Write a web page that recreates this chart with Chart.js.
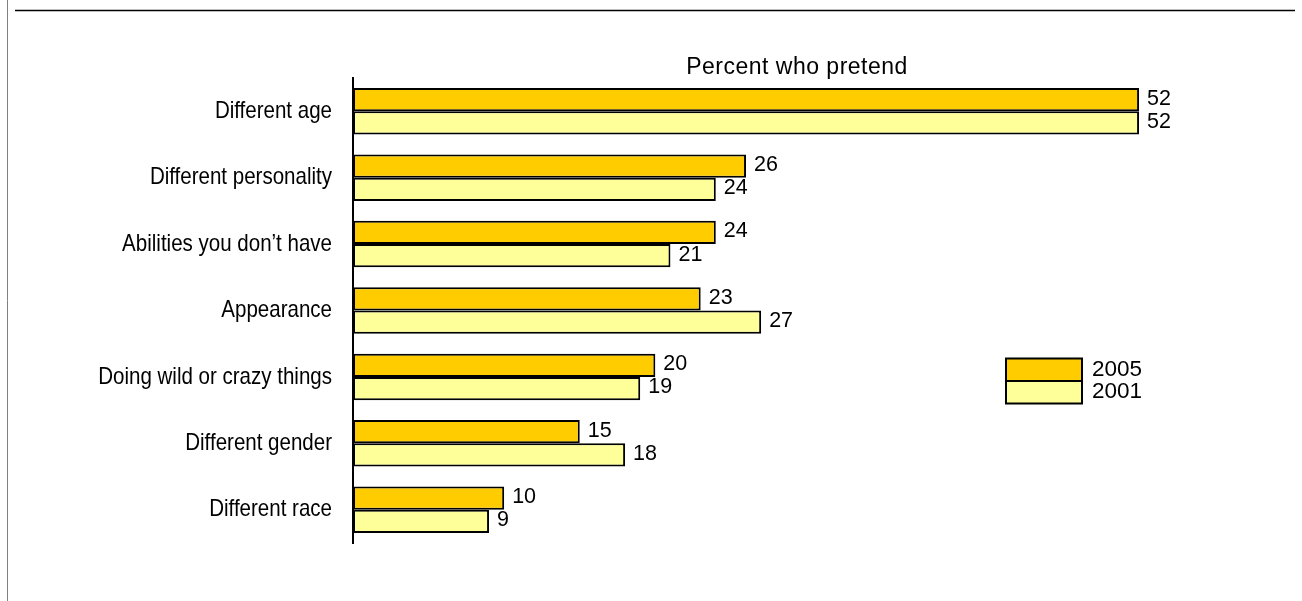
<!DOCTYPE html>
<html>
<head>
<meta charset="utf-8">
<script src="https://cdn.jsdelivr.net/npm/chart.js@4/dist/chart.umd.min.js"></script>
<style>
  html, body { margin: 0; padding: 0; background: #ffffff; }
  #wrap { position: relative; width: 1302px; height: 601px; }
  canvas { display: block; }
</style>
</head>
<body>
<div id="wrap"><canvas id="c" width="1302" height="601"></canvas></div>
<script>
const categories = [
  "Different age",
  "Different personality",
  "Abilities you don\u2019t have",
  "Appearance",
  "Doing wild or crazy things",
  "Different gender",
  "Different race"
];
const values2005 = [52, 26, 24, 23, 20, 15, 10];
const values2001 = [52, 24, 21, 27, 19, 18, 9];
const seriesLabels = ["2005", "2001"];
const titleText = "Percent who pretend";

const frame = {
  id: 'frame',
  beforeDraw(chart) {
    const ctx = chart.ctx;
    ctx.save();
    ctx.fillStyle = '#ffffff';
    ctx.fillRect(0, 0, chart.width, chart.height);
    ctx.strokeStyle = '#808080';
    ctx.lineWidth = 1;
    ctx.beginPath();
    ctx.moveTo(7.5, 0); ctx.lineTo(7.5, chart.height);
    ctx.stroke();
    ctx.strokeStyle = '#000000';
    ctx.lineWidth = 1.5;
    ctx.beginPath();
    ctx.moveTo(15, 10.5); ctx.lineTo(1295, 10.5);
    ctx.stroke();
    ctx.restore();
  }
};

const extras = {
  id: 'extras',
  afterDatasetsDraw(chart) {
    const ctx = chart.ctx;
    const yScale = chart.scales.y;
    ctx.save();
    // category labels (condensed look)
    ctx.fillStyle = '#000';
    ctx.font = '24px "Liberation Sans", Arial, sans-serif';
    ctx.textAlign = 'right';
    ctx.textBaseline = 'middle';
    const sx = 0.855;
    chart.data.labels.forEach((lab, i) => {
      const y = yScale.getPixelForValue(i);
      ctx.save();
      ctx.translate(332, y);
      ctx.scale(sx, 1);
      ctx.fillText(lab, 0, 0);
      ctx.restore();
    });
    // title
    ctx.font = '23px "Liberation Sans", Arial, sans-serif';
    ctx.textAlign = 'center';
    ctx.textBaseline = 'alphabetic';
    try { ctx.letterSpacing = '0.5px'; } catch (e) {}
    ctx.fillText(titleText, 797, 74);
    try { ctx.letterSpacing = '0px'; } catch (e) {}
    // value labels
    ctx.font = '21.5px "Liberation Sans", Arial, sans-serif';
    ctx.textAlign = 'left';
    ctx.textBaseline = 'middle';
    chart.data.datasets.forEach((ds, di) => {
      const meta = chart.getDatasetMeta(di);
      meta.data.forEach((bar, i) => {
        ctx.fillText(String(ds.data[i]), bar.x + 8, bar.y - 1);
      });
    });
    // legend
    const lx = 1006, lw = 76, lh = 22.5;
    let ly = 358.5;
    ctx.font = '22.5px "Liberation Sans", Arial, sans-serif';
    chart.data.datasets.forEach((ds) => {
      ctx.fillStyle = ds.backgroundColor;
      ctx.fillRect(lx, ly, lw, lh);
      ctx.strokeStyle = '#000';
      ctx.lineWidth = 2;
      ctx.strokeRect(lx, ly, lw, lh);
      ctx.fillStyle = '#000';
      ctx.fillText(ds.label, lx + lw + 10, ly + lh / 2);
      ly += lh;
    });
    ctx.restore();
  }
};

new Chart(document.getElementById('c'), {
  type: 'bar',
  data: {
    labels: categories,
    datasets: [
      { label: seriesLabels[0], data: values2005, backgroundColor: '#FFCC00', borderColor: '#000000', borderWidth: 2, borderSkipped: false },
      { label: seriesLabels[1], data: values2001, backgroundColor: '#FFFF99', borderColor: '#000000', borderWidth: 2, borderSkipped: false }
    ]
  },
  options: {
    indexAxis: 'y',
    responsive: false,
    animation: false,
    devicePixelRatio: 1,
    layout: { padding: { top: 78, right: 42, bottom: 58, left: 0 } },
    datasets: { bar: { categoryPercentage: 0.7, barPercentage: 1.0 } },
    plugins: { legend: { display: false }, title: { display: false }, tooltip: { enabled: false } },
    scales: {
      x: { display: false, min: 0, max: 60 },
      y: {
        grid: { display: false, drawTicks: false },
        border: { display: true, color: '#000000', width: 2 },
        ticks: { display: false },
        afterFit(scale) { scale.width = 353; }
      }
    }
  },
  plugins: [frame, extras]
});
</script>
</body>
</html>
